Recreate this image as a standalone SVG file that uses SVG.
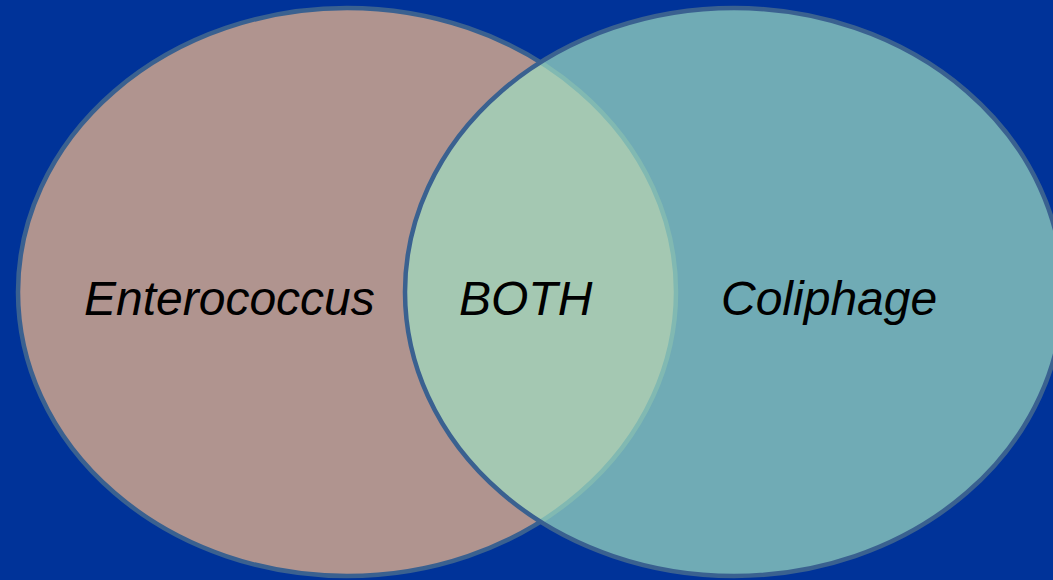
<svg xmlns="http://www.w3.org/2000/svg" width="1053" height="580" viewBox="0 0 1053 580">
  <style>
    .set { stroke: #3a6190; stroke-width: 4.5; }
    .label { font-family: "Liberation Sans", Arial, sans-serif; font-style: italic; font-size: 48px; fill: #000000; }
  </style>
  <rect width="1053" height="580" fill="#003399"/>
  <g id="enterococcus">
    <ellipse class="set" cx="347" cy="292" rx="329" ry="284" fill="#b0948f"/>
  </g>
  <g id="coliphage">
    <!-- translucent fill so the overlap blends with the left set -->
    <ellipse cx="734" cy="292" rx="329" ry="284" fill="#a0dec1" fill-opacity="0.7"/>
    <ellipse class="set" cx="734" cy="292" rx="329" ry="284" fill="none"/>
  </g>
  <g id="labels">
    <text class="label" x="84" y="315">Enterococcus</text>
    <text class="label" x="459" y="315">BOTH</text>
    <text class="label" x="721" y="315">Coliphage</text>
  </g>
</svg>
